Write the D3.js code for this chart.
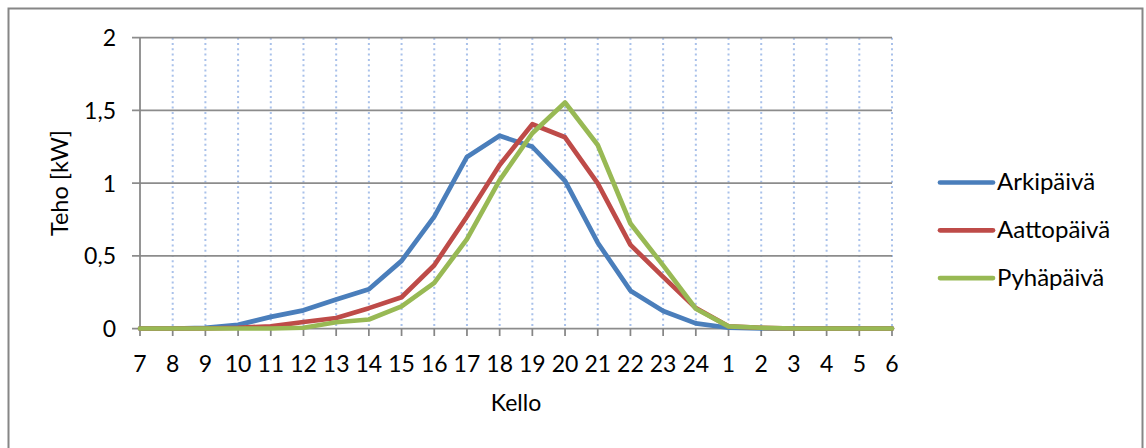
<!DOCTYPE html>
<html>
<head>
<meta charset="utf-8">
<script src="https://cdn.jsdelivr.net/npm/d3@7"></script>
<style>
  html, body { margin: 0; padding: 0; background: #fff; }
  svg { display: block; }
  text { font-family: Lato, "Open Sans", sans-serif; fill: #000; }
</style>
</head>
<body>
<svg id="chart" width="1146" height="448"></svg>
<script>
// Hour of day, starting at 7 in the morning
const hours = ["7","8","9","10","11","12","13","14","15","16","17","18","19","20","21","22","23","24","1","2","3","4","5","6"];

// Power [kW] per hour for each day type
const arkipaiva  = [0, 0, 0.005, 0.025, 0.08, 0.125, 0.2, 0.27, 0.465, 0.77, 1.18, 1.325, 1.25, 1.015, 0.59, 0.26, 0.12, 0.035, 0.005, 0, 0, 0, 0, 0];
const aattopaiva = [0, 0, 0, 0.005, 0.015, 0.045, 0.072, 0.14, 0.215, 0.435, 0.77, 1.125, 1.405, 1.315, 0.998, 0.575, 0.355, 0.14, 0.015, 0.005, 0, 0, 0, 0];
const pyhapaiva  = [0, 0, 0, 0, 0, 0.005, 0.043, 0.062, 0.152, 0.314, 0.615, 1.02, 1.343, 1.554, 1.262, 0.722, 0.434, 0.136, 0.015, 0.005, 0, 0, 0, 0];

const seriesNames  = ["Arkipäivä", "Aattopäivä", "Pyhäpäivä"];
const seriesColors = ["#4a7ebb", "#be4b48", "#98b954"];
const yTicks = [0, 0.5, 1, 1.5, 2];

const series = [arkipaiva, aattopaiva, pyhapaiva].map((values, i) => ({
  name: seriesNames[i], color: seriesColors[i], values
}));

const svg = d3.select("#chart");
const fmt = d => String(d).replace(".", ",");

// Chart frame
svg.append("rect")
  .attr("x", 8.5).attr("y", 8.5)
  .attr("width", 1134).attr("height", 460)
  .attr("fill", "#fff").attr("stroke", "#868686").attr("stroke-width", 2);

const x = d3.scalePoint().domain(hours).range([140, 892]);
const y = d3.scaleLinear().domain([0, 2]).range([328.5, 37.7]);

// Vertical dotted gridlines at every hour
svg.append("g")
  .selectAll("line")
  .data(hours.slice(1))
  .join("line")
  .attr("x1", d => x(d)).attr("x2", d => x(d))
  .attr("y1", y(2)).attr("y2", y(0))
  .attr("stroke", "#a9c1ea").attr("stroke-width", 2)
  .attr("stroke-dasharray", "2,3.3");

// Horizontal gridlines with left tick marks
svg.append("g")
  .selectAll("line")
  .data(yTicks)
  .join("line")
  .attr("x1", 132).attr("x2", x(hours[hours.length - 1]))
  .attr("y1", d => y(d)).attr("y2", d => y(d))
  .attr("stroke", "#8c8c8c").attr("stroke-width", 1.75);

// Y axis line
svg.append("line")
  .attr("x1", 140).attr("x2", 140)
  .attr("y1", y(2)).attr("y2", y(0))
  .attr("stroke", "#868686").attr("stroke-width", 1.75);

// X axis tick marks
svg.append("g")
  .selectAll("line")
  .data(hours)
  .join("line")
  .attr("x1", d => x(d)).attr("x2", d => x(d))
  .attr("y1", y(0)).attr("y2", y(0) + 7.5)
  .attr("stroke", "#868686").attr("stroke-width", 1.75);

// Y tick labels
svg.append("g")
  .selectAll("text")
  .data(yTicks)
  .join("text")
  .attr("x", 116).attr("y", d => y(d) + 8.5)
  .attr("text-anchor", "end")
  .attr("font-size", 23)
  .text(fmt);

// X tick labels
svg.append("g")
  .selectAll("text")
  .data(hours)
  .join("text")
  .attr("x", d => x(d)).attr("y", 371.5)
  .attr("text-anchor", "middle")
  .attr("font-size", 23)
  .text(d => d);

// Axis titles
svg.append("text")
  .attr("x", 516).attr("y", 411)
  .attr("text-anchor", "middle")
  .attr("font-size", 23)
  .text("Kello");

svg.append("text")
  .attr("transform", `translate(68, ${(y(0) + y(2)) / 2}) rotate(-90)`)
  .attr("text-anchor", "middle")
  .attr("font-size", 23.5)
  .text("Teho [kW]");

// Series lines
const line = d3.line()
  .x((d, i) => x(hours[i]))
  .y(d => y(d));

svg.append("g")
  .selectAll("path")
  .data(series)
  .join("path")
  .attr("d", s => line(s.values))
  .attr("fill", "none")
  .attr("stroke", s => s.color)
  .attr("stroke-width", 4.7)
  .attr("stroke-linejoin", "round")
  .attr("stroke-linecap", "round");

// Legend
const legend = svg.append("g")
  .selectAll("g")
  .data(series)
  .join("g")
  .attr("transform", (s, i) => `translate(940, ${182.5 + i * 47.8})`);

legend.append("line")
  .attr("x1", 0).attr("x2", 53)
  .attr("stroke", s => s.color)
  .attr("stroke-width", 4.7)
  .attr("stroke-linecap", "round");

legend.append("text")
  .attr("x", 57).attr("y", 7.5)
  .attr("font-size", 24)
  .text(s => s.name);
</script>
</body>
</html>
